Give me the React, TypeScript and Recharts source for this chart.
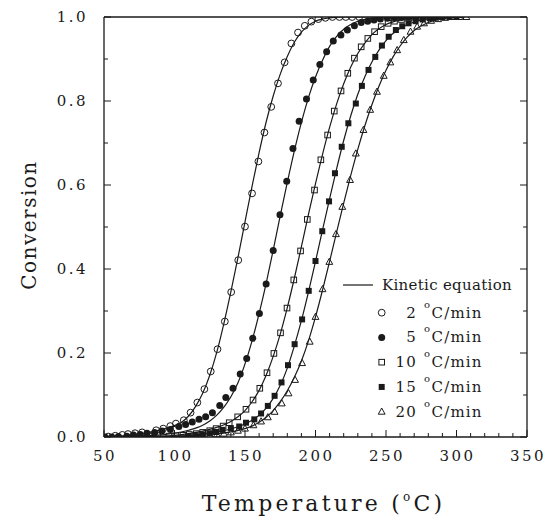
import React from "react";
import {
  ComposedChart,
  Line,
  Scatter,
  XAxis,
  YAxis,
  Legend,
} from "recharts";

const INK = "#1a1a1a";
const FONT = "'DejaVu Serif', serif";

// axis ticks
const xTicks = [50, 60, 70, 80, 90, 100, 110, 120, 130, 140, 150, 160, 170, 180, 190, 200, 210, 220, 230, 240, 250, 260, 270, 280, 290, 300, 310, 320, 330, 340, 350];
const yTicks = [0, 0.1, 0.2, 0.3, 0.4, 0.5, 0.6, 0.7, 0.8, 0.9, 1.0];

// measured points [temperature, conversion]
const pts2 = [[53, 0.001], [58, 0.003], [63, 0.005], [67, 0.007], [72, 0.009], [77, 0.011], [82, 0.002], [87, 0.016], [92, 0.02], [97, 0.026], [101, 0.032], [106.6, 0.04], [111.4, 0.058], [116.2, 0.082], [121.2, 0.114], [125.7, 0.156], [130.5, 0.209], [135.7, 0.275], [140.2, 0.345], [145.2, 0.421], [150, 0.501], [155, 0.58], [159.5, 0.656], [163.8, 0.725], [168.6, 0.786], [173.4, 0.842], [178.1, 0.892], [182.9, 0.937], [187.6, 0.963], [192.4, 0.979], [197.1, 0.989], [202, 0.995], [207, 0.998], [212, 1.0], [217, 1.0], [221.5, 1.0], [226, 1.0], [231, 1.0]];
const pts5 = [[50.7, 0], [55.5, 0], [60.2, 0.001], [66.2, 0.002], [70.9, 0.005], [75.7, 0.006], [80.5, 0.009], [85.9, 0.011], [91.1, 0.014], [97.1, 0.018], [103.1, 0.025], [107.9, 0.03], [112.6, 0.036], [117.4, 0.042], [122.1, 0.048], [126.9, 0.058], [132.1, 0.075], [136.4, 0.094], [141.5, 0.116], [146.6, 0.15], [151.2, 0.187], [155.5, 0.235], [160.2, 0.294], [165, 0.364], [170, 0.444], [174.8, 0.529], [179.6, 0.609], [184, 0.687], [188.4, 0.752], [193.6, 0.805], [198.4, 0.85], [203.1, 0.887], [207.9, 0.917], [212.6, 0.943], [218, 0.957], [222.6, 0.969], [227.6, 0.979], [232.4, 0.987], [237, 0.99], [241.5, 0.993], [246, 0.995], [251, 0.997], [256, 0.998], [261, 0.999], [266, 1.0], [271, 1.0]];
const pts10 = [[96, 0.002], [101, 0.003], [106, 0.004], [110.5, 0.006], [115.5, 0.008], [120, 0.011], [125, 0.015], [129.5, 0.02], [134.5, 0.026], [138.8, 0.034], [144.8, 0.048], [150.7, 0.066], [155.7, 0.088], [160.5, 0.116], [165.6, 0.153], [170.5, 0.199], [175.2, 0.248], [179.8, 0.307], [184.6, 0.374], [189.4, 0.443], [194.2, 0.518], [199.3, 0.588], [203.8, 0.66], [208.6, 0.719], [213.3, 0.776], [218.1, 0.824], [222.9, 0.866], [227.6, 0.902], [232.4, 0.929], [237.1, 0.949], [241.9, 0.965], [246.6, 0.977], [251.5, 0.985], [256, 0.99], [261, 0.994], [266, 0.997], [271, 0.999], [276, 1.0], [281, 1.0], [285.5, 1.0]];
const pts15 = [[110, 0.002], [115, 0.004], [120, 0.006], [125, 0.009], [129.5, 0.012], [134, 0.017], [140, 0.021], [145.9, 0.025], [150.7, 0.034], [156.6, 0.042], [161.4, 0.056], [166.2, 0.074], [171, 0.098], [175.9, 0.13], [180.5, 0.171], [185.2, 0.221], [190.5, 0.28], [195.2, 0.348], [200, 0.419], [204.8, 0.49], [209.6, 0.561], [213.8, 0.628], [218.6, 0.691], [223.3, 0.747], [228.6, 0.794], [232.9, 0.836], [237.6, 0.874], [242.4, 0.905], [247.1, 0.932], [251.9, 0.953], [257, 0.969], [261.5, 0.978], [266, 0.985], [271, 0.99], [276, 0.994], [281, 0.997], [285.5, 0.999], [290, 1.0], [295, 1.0], [300, 1.0]];
const pts20 = [[120, 0.002], [125, 0.004], [130, 0.006], [135, 0.008], [140, 0.011], [145, 0.015], [150, 0.02], [156, 0.028], [161.4, 0.037], [166.2, 0.047], [171, 0.06], [176.1, 0.08], [180.9, 0.104], [185.5, 0.136], [190.5, 0.176], [195.9, 0.227], [200, 0.286], [205, 0.352], [209.8, 0.417], [214.5, 0.483], [219, 0.548], [224.5, 0.612], [228.6, 0.675], [234, 0.731], [238.8, 0.779], [243.6, 0.822], [248.4, 0.86], [253.1, 0.892], [257.9, 0.921], [262.6, 0.945], [267.4, 0.965], [272.1, 0.977], [277, 0.985], [282, 0.991], [287, 0.995], [292, 0.998], [297, 1.0], [302, 1.0], [307, 1.0]];

// kinetic equation curves
const fit2 = [[50, 0], [60, 0.002], [70, 0.005], [80, 0.01], [90, 0.017], [100, 0.027], [105, 0.035], [110, 0.05], [115, 0.073], [120, 0.104], [125, 0.147], [130, 0.202], [135, 0.27], [140, 0.346], [145, 0.427], [150, 0.512], [155, 0.597], [160, 0.677], [165, 0.75], [170, 0.812], [175, 0.864], [180, 0.906], [185, 0.94], [190, 0.964], [195, 0.98], [200, 0.99], [210, 0.998], [220, 1], [305, 1]];
const fit5 = [[50, 0], [70, 0.001], [90, 0.005], [100, 0.009], [110, 0.016], [120, 0.028], [125, 0.038], [130, 0.052], [135, 0.071], [140, 0.096], [145, 0.129], [150, 0.174], [155, 0.229], [160, 0.294], [165, 0.366], [170, 0.445], [175, 0.527], [180, 0.606], [185, 0.681], [190, 0.749], [195, 0.808], [200, 0.857], [205, 0.897], [210, 0.93], [215, 0.954], [220, 0.971], [230, 0.99], [240, 0.997], [250, 1], [305, 1]];
const fit10 = [[50, 0], [80, 0.001], [100, 0.004], [110, 0.008], [120, 0.014], [130, 0.023], [140, 0.037], [145, 0.048], [150, 0.063], [155, 0.084], [160, 0.111], [165, 0.147], [170, 0.192], [175, 0.245], [180, 0.308], [185, 0.378], [190, 0.453], [195, 0.53], [200, 0.603], [205, 0.673], [210, 0.737], [215, 0.793], [220, 0.841], [225, 0.881], [230, 0.913], [235, 0.938], [240, 0.958], [250, 0.982], [260, 0.993], [270, 0.998], [280, 1], [305, 1]];
const fit15 = [[50, 0], [100, 0.002], [120, 0.007], [130, 0.012], [140, 0.019], [150, 0.031], [155, 0.04], [160, 0.052], [165, 0.069], [170, 0.092], [175, 0.123], [180, 0.164], [185, 0.217], [190, 0.277], [195, 0.345], [200, 0.418], [205, 0.493], [210, 0.567], [215, 0.639], [220, 0.706], [225, 0.765], [230, 0.816], [235, 0.858], [240, 0.893], [245, 0.921], [250, 0.944], [260, 0.973], [270, 0.988], [280, 0.996], [290, 0.999], [300, 1], [305, 1]];
const fit20 = [[50, 0], [100, 0.001], [120, 0.004], [140, 0.012], [150, 0.02], [155, 0.026], [160, 0.035], [165, 0.047], [170, 0.063], [175, 0.084], [180, 0.11], [185, 0.142], [190, 0.181], [195, 0.229], [200, 0.286], [205, 0.35], [210, 0.418], [215, 0.488], [220, 0.557], [225, 0.623], [230, 0.685], [235, 0.741], [240, 0.791], [245, 0.835], [250, 0.873], [255, 0.905], [260, 0.931], [265, 0.952], [270, 0.968], [280, 0.987], [290, 0.996], [300, 0.999], [305, 1]];

const rates = ["2", "5", "10", "15", "20"];

const toRows = (arr: number[][]) => arr.map(([t, c]) => ({ t, c }));

// marker shapes
const OpenCircle = (p: any) => <circle cx={p.cx} cy={p.cy} r={3.4} fill="none" stroke={INK} strokeWidth={1} />;
const FilledCircle = (p: any) => <circle cx={p.cx} cy={p.cy} r={3.5} fill={INK} />;
const OpenSquare = (p: any) => <rect x={p.cx - 2.8} y={p.cy - 2.8} width={5.6} height={5.6} fill="none" stroke={INK} strokeWidth={1} />;
const FilledSquare = (p: any) => <rect x={p.cx - 3} y={p.cy - 3} width={6} height={6} fill={INK} />;
const OpenTriangle = (p: any) => (
  <path d={`M${p.cx},${p.cy - 3.7} L${p.cx + 3.4},${p.cy + 2.5} L${p.cx - 3.4},${p.cy + 2.5} Z`} fill="none" stroke={INK} strokeWidth={1} />
);
const shapes = [OpenCircle, FilledCircle, OpenSquare, FilledSquare, OpenTriangle];
const pointSets = [pts2, pts5, pts10, pts15, pts20];
const fitSets = [fit2, fit5, fit10, fit15, fit20];

const labelStyle = { fontFamily: FONT, fontSize: 15, fill: INK, letterSpacing: 2.5 } as const;

const BottomTick = (p: any) => {
  const v = p.payload.value;
  const major = v % 50 === 0;
  return (
    <g>
      <line x1={p.x} x2={p.x} y1={p.y} y2={p.y - (major ? 7 : 4)} stroke={INK} strokeWidth={1} />
      {major && (
        <text x={p.x + 1} y={p.y + 24} textAnchor="middle" {...labelStyle}>
          {v}
        </text>
      )}
    </g>
  );
};
const TopTick = (p: any) => {
  const major = p.payload.value % 50 === 0;
  return <line x1={p.x} x2={p.x} y1={p.y} y2={p.y + (major ? 7 : 4)} stroke={INK} strokeWidth={1} />;
};
const LeftTick = (p: any) => {
  const major = p.index % 2 === 0;
  return (
    <g>
      <line x1={p.x} x2={p.x + (major ? 7 : 4)} y1={p.y} y2={p.y} stroke={INK} strokeWidth={1} />
      {major && (
        <text x={p.x - 16} y={p.y + 5} textAnchor="end" {...labelStyle}>
          {p.payload.value.toFixed(1)}
        </text>
      )}
    </g>
  );
};
const RightTick = (p: any) => {
  const major = p.index % 2 === 0;
  return <line x1={p.x} x2={p.x - (major ? 7 : 4)} y1={p.y} y2={p.y} stroke={INK} strokeWidth={1} />;
};

const XTitle = (p: any) => {
  const vb = p.viewBox;
  const cx = vb.x + vb.width / 2 + 8;
  return (
    <text x={cx} y={vb.y + 74} textAnchor="middle" fontFamily={FONT} fontSize={22} fill={INK} letterSpacing={3.2}>
      Temperature (
      <tspan dy={-10} fontSize={12}>o</tspan>
      <tspan dy={10}>C)</tspan>
    </text>
  );
};
const YTitle = (p: any) => {
  const vb = p.viewBox;
  const cy = vb.y + vb.height / 2 - 2;
  return (
    <text x={21} y={cy} transform={`rotate(-90, 21, ${cy})`} textAnchor="middle" dy={7} fontFamily={FONT} fontSize={20} fill={INK} letterSpacing={1.5}>
      Conversion
    </text>
  );
};

const LegendBox = () => {
  const legendFont = { fontFamily: FONT, fontSize: 15, fill: INK, letterSpacing: 1.2 } as const;
  return (
    <svg width={200} height={160}>
      <line x1={13} x2={43} y1={15} y2={15} stroke={INK} strokeWidth={1.2} />
      <text x={52} y={20} {...legendFont} letterSpacing={0.3}>Kinetic equation</text>
      {rates.map((r, i) => {
        const cy = 42.7 + i * 24.75;
        const Shape = shapes[i];
        return (
          <g key={r}>
            <Shape cx={51.7} cy={cy} />
            <text x={87} y={cy + 5} textAnchor="end" {...legendFont}>{r}</text>
            <text x={94} y={cy - 5} fontFamily={FONT} fontSize={10} fill={INK}>o</text>
            <text x={101.5} y={cy + 5} {...legendFont}>C/min</text>
          </g>
        );
      })}
    </svg>
  );
};

export default function App() {
  return (
    <ComposedChart width={544} height={515} margin={{ top: 0, right: 0, bottom: 0, left: 0 }}>
      <XAxis
        dataKey="t"
        type="number"
        domain={[50, 350]}
        allowDataOverflow
        ticks={xTicks}
        interval={0}
        tickSize={0}
        tickMargin={0}
        tickLine={false}
        tick={BottomTick}
        height={86}
        axisLine={{ stroke: INK, strokeWidth: 1.3 }}
        label={{ content: XTitle }}
      />
      <XAxis
        xAxisId="top"
        orientation="top"
        type="number"
        domain={[50, 350]}
        allowDataOverflow
        ticks={xTicks}
        interval={0}
        tickSize={0}
        tickMargin={0}
        tickLine={false}
        tick={TopTick}
        height={9}
        axisLine={{ stroke: INK, strokeWidth: 1.3 }}
      />
      <YAxis
        type="number"
        domain={[0, 1]}
        allowDataOverflow
        ticks={yTicks}
        interval={0}
        tickSize={0}
        tickMargin={0}
        tickLine={false}
        tick={LeftTick}
        width={96}
        axisLine={{ stroke: INK, strokeWidth: 1.3 }}
        label={{ content: YTitle }}
      />
      <YAxis
        yAxisId="right"
        orientation="right"
        type="number"
        domain={[0, 1]}
        allowDataOverflow
        ticks={yTicks}
        interval={0}
        tickSize={0}
        tickMargin={0}
        tickLine={false}
        tick={RightTick}
        width={25}
        axisLine={{ stroke: INK, strokeWidth: 1.3 }}
      />
      {fitSets.map((f, i) => (
        <Line
          key={"fit" + i}
          data={toRows(f)}
          dataKey="c"
          type="monotone"
          stroke={INK}
          strokeWidth={1.2}
          dot={false}
          activeDot={false}
          isAnimationActive={false}
          legendType="none"
        />
      ))}
      {pointSets.map((s, i) => (
        <Scatter
          key={"pts" + i}
          data={toRows(s)}
          dataKey="c"
          shape={shapes[i]}
          isAnimationActive={false}
          legendType="none"
        />
      ))}
      <Legend
        layout="vertical"
        align="center"
        verticalAlign="middle"
        wrapperStyle={{ position: "absolute", left: 322, top: 262, width: 200, height: 160 }}
        content={LegendBox}
      />
    </ComposedChart>
  );
}
